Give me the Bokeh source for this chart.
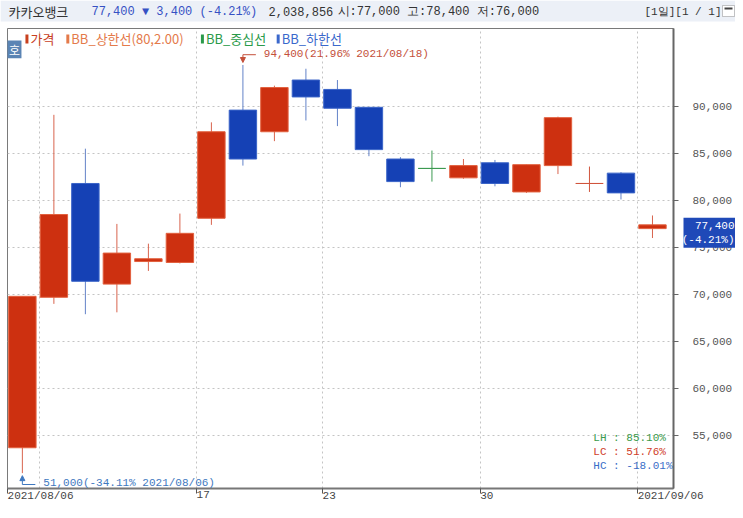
import numpy as np
from bokeh.plotting import figure
from bokeh.layouts import column, row
from bokeh.models import (ColumnDataSource, Range1d, FixedTicker, NumeralTickFormatter,
                          Label, BoxAnnotation, Arrow, NormalHead)
from bokeh.embed import file_html
from bokeh.resources import INLINE

# ---------------- data ----------------
dates = ["2021/08/06", "2021/08/09", "2021/08/10", "2021/08/11", "2021/08/12", "2021/08/13",
         "2021/08/17", "2021/08/18", "2021/08/19", "2021/08/20", "2021/08/23", "2021/08/24",
         "2021/08/25", "2021/08/26", "2021/08/27", "2021/08/30", "2021/08/31", "2021/09/01",
         "2021/09/02", "2021/09/03", "2021/09/06"]
opens  = [53700, 69700, 81800, 71100, 73500, 73400, 78100, 89600, 87300, 92800, 91800,
          89900, 84400, 83400, 82400, 84000, 80900, 83700, 81800, 82900, 77000]
highs  = [69800, 89100, 85500, 77500, 75400, 78600, 88300, 94400, 92200, 94000, 92800,
          89900, 84600, 85300, 84400, 84300, 83800, 88900, 83600, 83000, 78400]
lows   = [51000, 69000, 67900, 68100, 72500, 73300, 77400, 83700, 86300, 88500, 87900,
          84700, 81400, 82000, 82300, 81500, 80800, 82800, 80900, 80100, 76000]
closes = [69800, 78500, 71400, 74400, 73800, 76500, 87300, 84400, 92000, 91000, 89800,
          85400, 82000, 83400, 83700, 81800, 83800, 88800, 81800, 80800, 77400]
doji_colors = {"2021/08/26": "#3c9a50", "2021/09/02": "#d0553c"}

tick_idx = [0, 6, 10, 15, 20]
tick_labels = ["2021/08/06", "17", "23", "30", "2021/09/06"]
grid_idx = [1, 6, 10, 15, 20]
price_ticks = [55000, 60000, 65000, 70000, 75000, 80000, 85000, 90000]

stock_name = "카카오뱅크"
last_price, change, change_pct = 77400, -3400, -4.21
volume = "2,038,856"
stats = [("LH :  85.10%", "#3a9a4a"), ("LC :  51.76%", "#d0402a"), ("HC : -18.01%", "#3a6ec8")]

MONO = "Liberation Mono"
KR = "Noto Sans CJK KR"

# ---------------- main chart geometry ----------------
W, H = 735, 510
BL, BR, BT, BB = 7, 60, 28, 20
FH = H - BT - BB
FW = W - BL - BR
SLOT = 31.6
X0 = -0.002
X1 = X0 + FW / SLOT
PX_PER_UNIT_Y = 0.009446          # pixels per won
Y1 = 72500 + (271.5 - BT) / PX_PER_UNIT_Y
Y0 = Y1 - FH / PX_PER_UNIT_Y


def px2x(px):
    return X0 + (px - BL) * (X1 - X0) / FW


def py2y(py):
    return Y1 - (py - BT) * (Y1 - Y0) / FH


DX = (X1 - X0) / FW
DY = (Y1 - Y0) / FH

UP_FILL, UP_LINE, UP_WICK = "#cd3010", "#e2603e", "#d8644e"
DN_FILL, DN_LINE, DN_WICK = "#1541b5", "#3a64c8", "#6382c8"

n = len(dates)
xs = np.arange(n) + 0.47
fills, lines, wicks, tops, bots = [], [], [], [], []
for d, o, c in zip(dates, opens, closes):
    tops.append(max(o, c))
    bots.append(min(o, c))
    if c > o:
        fills.append(UP_FILL); lines.append(UP_LINE); wicks.append(UP_WICK)
    elif c < o:
        fills.append(DN_FILL); lines.append(DN_LINE); wicks.append(DN_WICK)
    else:
        col = doji_colors.get(d, UP_WICK)
        fills.append(col); lines.append(col); wicks.append(col)

src = ColumnDataSource(dict(x=xs, open=opens, high=highs, low=lows, close=closes,
                            top=tops, bottom=bots, fill=fills, line=lines, wick=wicks))

p = figure(width=W, height=H, x_range=Range1d(X0, X1), y_range=Range1d(Y0, Y1),
           output_backend="svg", toolbar_location=None, y_axis_location="right",
           min_border_left=BL, min_border_right=BR, min_border_top=BT, min_border_bottom=BB,
           background_fill_color="white", border_fill_color="white")
p.outline_line_color = "#7a7a7a"
p.outline_line_width = 1

p.ygrid.ticker = FixedTicker(ticks=price_ticks)
p.ygrid.grid_line_color = "#c4c4c4"
p.ygrid.grid_line_dash = "2 3"
p.xgrid.ticker = FixedTicker(ticks=grid_idx)
p.xgrid.grid_line_color = "#c4c4c4"
p.xgrid.grid_line_dash = "2 3"

ya = p.yaxis[0]
ya.ticker = FixedTicker(ticks=price_ticks)
ya.formatter = NumeralTickFormatter(format="0,0")
ya.axis_line_color = "#666666"
ya.axis_line_width = 2
ya.major_tick_in = 0
ya.major_tick_out = 5
ya.major_tick_line_color = "#666666"
ya.minor_tick_line_color = None
ya.major_label_standoff = 14
ya.major_label_text_font = MONO
ya.major_label_text_font_size = "11px"
ya.major_label_text_color = "#555555"

xa = p.xaxis[0]
xa.ticker = FixedTicker(ticks=tick_idx)
xa.major_label_overrides = {i: t for i, t in zip(tick_idx, tick_labels)}
xa.axis_line_color = "#777777"
xa.axis_line_width = 2
xa.major_tick_in = 0
xa.major_tick_out = 5
xa.major_tick_line_color = "#555555"
xa.minor_tick_line_color = None
xa.major_label_standoff = 2
xa.major_label_orientation = -1e-6
xa.major_label_text_font = MONO
xa.major_label_text_font_size = "11px"
xa.major_label_text_color = "#444444"

p.segment(x0="x", y0="low", x1="x", y1="high", line_color="wick", line_width=1, source=src)
p.vbar(x="x", width=0.87, top="top", bottom="bottom", fill_color="fill", line_color="line",
       line_width=1, source=src)

# max / min annotations
imax = int(np.argmax(highs)); imin = int(np.argmin(lows))
hi, lo = highs[imax], lows[imin]
hc = "#c4503a"; lc = "#3e78c0"
ytop = hi + 10.3 * DY
p.segment(x0=[xs[imax]], y0=[ytop], x1=[xs[imax] + 13 * DX], y1=[ytop], line_color=hc, line_width=1)
p.add_layout(Arrow(end=NormalHead(size=5, fill_color=hc, line_color=hc), x_start=xs[imax], y_start=ytop,
                   x_end=xs[imax], y_end=hi + 2.5 * DY, line_color=hc, line_width=1))
p.add_layout(Label(x=xs[imax] + 21 * DX, y=ytop + 1 * DY,
                   text=f"{hi:,}({(hi / last_price - 1) * 100:.2f}% {dates[imax]})",
                   text_font=MONO, text_font_size="11px", text_color=hc, text_baseline="middle"))
ybot = lo - 11.4 * DY
p.segment(x0=[xs[imin]], y0=[ybot], x1=[xs[imin] + 13 * DX], y1=[ybot], line_color=lc, line_width=1)
p.add_layout(Arrow(end=NormalHead(size=5, fill_color=lc, line_color=lc), x_start=xs[imin], y_start=ybot,
                   x_end=xs[imin], y_end=lo - 2.5 * DY, line_color=lc, line_width=1))
p.add_layout(Label(x=xs[imin] + 21 * DX, y=ybot + 2 * DY,
                   text=f"{lo:,}({(lo / last_price - 1) * 100:.2f}% {dates[imin]})",
                   text_font=MONO, text_font_size="11px", text_color=lc, text_baseline="middle"))

for k, (t, c) in enumerate(stats):
    p.add_layout(Label(x=px2x(674), y=py2y(439 + 14 * k), text=t, text_font=MONO,
                       text_font_size="11px", text_color=c, text_align="right", text_baseline="middle"))

leg = [("가격", "#c8401e", 25), ("BB_상한선(80,2.00)", "#e47a4a", 66),
       ("BB_중심선", "#2a9a4a", 201), ("BB_하한선", "#3a68cc", 277)]
for t, c, x in leg:
    p.add_layout(BoxAnnotation(left=px2x(x), right=px2x(x + 3), top=py2y(34), bottom=py2y(43),
                               fill_color=c, fill_alpha=1, line_color=None))
    p.add_layout(Label(x=px2x(x + 5), y=py2y(38.5), text=t, text_font=KR, text_font_size="13px",
                       text_color=c, text_baseline="middle"))

p.add_layout(BoxAnnotation(left=px2x(0), right=px2x(21), top=py2y(40), bottom=py2y(58),
                           fill_color="#5a84b4", fill_alpha=1, line_color=None))
p.add_layout(Label(x=px2x(14), y=py2y(49), text="호", text_font=KR, text_font_size="12px",
                   text_color="white", text_align="center", text_baseline="middle"))

# ---------------- overlay (header strip + price tag), pixel coordinates ----------------
ov = figure(width=W, height=H, x_range=Range1d(0, W), y_range=Range1d(H, 0),
            output_backend="svg", toolbar_location=None, x_axis_type=None, y_axis_type=None,
            min_border_left=0, min_border_right=0, min_border_top=0, min_border_bottom=0)
ov.background_fill_alpha = 0
ov.border_fill_alpha = 0
ov.outline_line_color = None
ov.xgrid.visible = False
ov.ygrid.visible = False

ov.add_layout(BoxAnnotation(left=0, right=W, top=0, bottom=21, fill_color="#ecf0f7", fill_alpha=1,
                            line_color=None))
hy = 11
ov.add_layout(Label(x=8, y=hy, text=stock_name, text_font=KR, text_font_size="13px",
                    text_color="#333333", text_baseline="middle"))
ov.add_layout(Label(x=91, y=hy, text=f"{last_price:,} ▼ {abs(change):,} ({change_pct:.2f}%)",
                    text_font=MONO, text_font_size="12px", text_color="#3651c4", text_baseline="middle"))
ov.add_layout(Label(x=268, y=hy, text=volume, text_font=MONO, text_font_size="12px",
                    text_color="#333333", text_baseline="middle"))
ov.add_layout(Label(x=337, y=hy, text=f"시:{opens[-1]:,} 고:{highs[-1]:,} 저:{lows[-1]:,}",
                    text_font=MONO, text_font_size="12px", text_color="#333333", text_baseline="middle"))
ov.add_layout(Label(x=644, y=hy, text="[1일][1 / 1]", text_font=MONO, text_font_size="11px",
                    text_color="#333333", text_baseline="middle"))
ov.add_layout(BoxAnnotation(left=722, right=734, top=5, bottom=16, fill_color="white", fill_alpha=1,
                            line_color="#444444", line_width=1))
ov.add_layout(BoxAnnotation(left=724, right=732, top=7, bottom=9, fill_color="#444444", fill_alpha=1,
                            line_color=None))

# current-price tag on the right axis
tag_py = BT + (Y1 - last_price) / (Y1 - Y0) * FH
ov.add_layout(BoxAnnotation(left=683, right=735, top=tag_py - 8, bottom=tag_py + 22,
                            fill_color="#1f49b8", fill_alpha=1, line_color=None))
ov.add_layout(Label(x=734, y=tag_py, text=f"{last_price:,}", text_font=MONO, text_font_size="11px",
                    text_color="white", text_align="right", text_baseline="middle"))
ov.add_layout(Label(x=734, y=tag_py + 14, text=f"({change_pct:.2f}%)", text_font=MONO,
                    text_font_size="11px", text_color="white", text_align="right", text_baseline="middle"))

layout = column(p, row(ov, styles={"margin-top": f"-{H}px"}), spacing=0)
open("out.html", "w").write(file_html(layout, INLINE))
